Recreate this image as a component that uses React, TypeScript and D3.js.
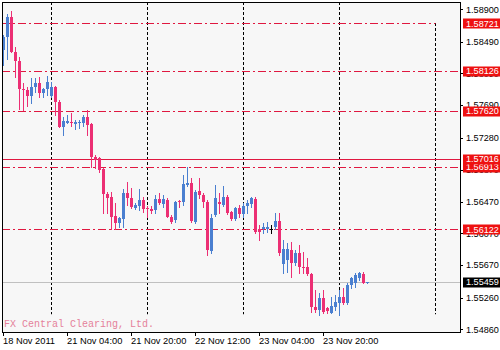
import React from "react";
import * as d3 from "d3";

const opens = [
  1.58386, 1.58554, 1.58807, 1.58365, 1.58247, 1.5789, 1.57881, 1.57806, 1.57915, 1.57966,
  1.5784, 1.57894, 1.57806, 1.57915, 1.57734, 1.57418, 1.5747, 1.57477, 1.57452, 1.57461,
  1.57461, 1.57537, 1.57452, 1.57039, 1.57019, 1.5688, 1.56568, 1.56534, 1.56291, 1.56202,
  1.56249, 1.56585, 1.56514, 1.56388, 1.56417, 1.56493, 1.56388, 1.56375, 1.56366, 1.56505,
  1.56442, 1.56493, 1.56282, 1.5624, 1.5648, 1.56471, 1.56682, 1.56703, 1.56219, 1.56606,
  1.56557, 1.56471, 1.55849, 1.56303, 1.56471, 1.5643, 1.56534, 1.56337, 1.56247, 1.56388,
  1.5631, 1.56417, 1.56442, 1.56501, 1.56121, 1.56123, 1.5613, 1.56123, 1.56148, 1.56231,
  1.55685, 1.55735, 1.55861, 1.55701, 1.5582, 1.55651, 1.55651, 1.55558, 1.55146, 1.55104,
  1.55252, 1.55125, 1.5507, 1.55146, 1.55196, 1.55272, 1.55189, 1.5542, 1.55441, 1.55504,
  1.55558, 1.55449,
];
const highs = [
  1.58576, 1.58841, 1.58879, 1.58428, 1.58294, 1.5797, 1.57919, 1.58029, 1.58029, 1.58042,
  1.57906, 1.58058, 1.57982, 1.57932, 1.57755, 1.5754, 1.57566, 1.57595, 1.57502, 1.57502,
  1.57566, 1.57629, 1.57465, 1.57061, 1.57039, 1.56897, 1.56597, 1.56597, 1.56455, 1.56278,
  1.56632, 1.56724, 1.56644, 1.56459, 1.56627, 1.56534, 1.56417, 1.56417, 1.56557, 1.56577,
  1.56557, 1.56514, 1.56303, 1.56484, 1.56493, 1.56808, 1.56905, 1.56774, 1.56619, 1.56774,
  1.56577, 1.56493, 1.56316, 1.56676, 1.56577, 1.56663, 1.56557, 1.56354, 1.56405, 1.5643,
  1.56451, 1.56493, 1.56534, 1.56534, 1.56177, 1.56198, 1.56219, 1.56177, 1.56332, 1.56332,
  1.55988, 1.55946, 1.55966, 1.55861, 1.55925, 1.5584, 1.55757, 1.55571, 1.55356, 1.55319,
  1.55356, 1.55146, 1.55272, 1.55293, 1.55356, 1.55378, 1.55441, 1.55524, 1.55567, 1.55588,
  1.55588, 1.55462,
];
const lows = [
  1.58197, 1.58269, 1.58361, 1.58049, 1.57638, 1.57629, 1.57678, 1.57713, 1.5786, 1.57797,
  1.57793, 1.57818, 1.57793, 1.57566, 1.57414, 1.57313, 1.57465, 1.57427, 1.57389, 1.57402,
  1.57427, 1.57313, 1.56913, 1.56893, 1.56846, 1.56325, 1.56328, 1.56121, 1.56121, 1.56152,
  1.56155, 1.5643, 1.56388, 1.56379, 1.56366, 1.56345, 1.56282, 1.56332, 1.56332, 1.56442,
  1.56408, 1.56274, 1.56206, 1.56219, 1.56408, 1.5643, 1.56669, 1.56211, 1.56206, 1.56514,
  1.56408, 1.55798, 1.5582, 1.56291, 1.56325, 1.56417, 1.56312, 1.5624, 1.56234, 1.56282,
  1.56282, 1.56325, 1.56408, 1.5608, 1.55988, 1.56072, 1.56092, 1.56072, 1.56121, 1.55798,
  1.55567, 1.55588, 1.55524, 1.55672, 1.55567, 1.55567, 1.55546, 1.55083, 1.55083, 1.55041,
  1.5507, 1.5507, 1.55062, 1.55104, 1.55041, 1.5518, 1.5518, 1.55378, 1.55398, 1.55483,
  1.55441, 1.55445,
];
const closes = [
  1.58554, 1.58807, 1.58365, 1.58247, 1.5789, 1.57881, 1.57806, 1.57915, 1.57966, 1.5784,
  1.57894, 1.57986, 1.57915, 1.57734, 1.57418, 1.57494, 1.57488, 1.57465, 1.57477, 1.57481,
  1.57537, 1.57439, 1.57032, 1.56998, 1.56871, 1.56568, 1.56514, 1.56282, 1.56206, 1.56265,
  1.56585, 1.56514, 1.564, 1.5643, 1.56493, 1.56379, 1.56375, 1.56358, 1.56505, 1.56451,
  1.56501, 1.56282, 1.56219, 1.56471, 1.56471, 1.56695, 1.56703, 1.56231, 1.56597, 1.56557,
  1.56471, 1.55855, 1.5626, 1.56518, 1.5644, 1.56534, 1.56325, 1.56257, 1.56388, 1.5631,
  1.56417, 1.56459, 1.56514, 1.56092, 1.56092, 1.56148, 1.56156, 1.56123, 1.56231, 1.5582,
  1.5587, 1.5587, 1.55701, 1.5582, 1.55651, 1.5563, 1.55558, 1.55138, 1.55104, 1.55252,
  1.55083, 1.55095, 1.55155, 1.55209, 1.55272, 1.55189, 1.5542, 1.55504, 1.55546, 1.55567,
  1.55449, 1.55459,
];

const priceTicks = [1.589, 1.5849, 1.5809, 1.5769, 1.5728, 1.5687, 1.5647, 1.5607, 1.5567, 1.5526, 1.5486];
const dateLabels = ["18 Nov 2011", "21 Nov 04:00", "21 Nov 20:00", "22 Nov 12:00", "23 Nov 04:00", "23 Nov 20:00"];
const dateLabelBars = [0, 16, 32, 48, 64, 80];
const separatorBars = [12, 36, 60, 84, 108];
const dashDotLevels = [1.58721, 1.58126, 1.5762, 1.56913, 1.56122];
const solidLevel = 1.57016;
const currentPrice = 1.55459;
const separatorBottom = 1.5505;
const watermark = "FX Central Clearing, Ltd.";

const BULL = "#4a7fd0";
const BEAR = "#ec2f74";
const LEVEL = "#e01840";
const AXIS_FONT = "'Liberation Sans', Arial, sans-serif";

export default function App() {
  const left = 2, top = 2, right = 460, bottom = 332;
  const x = d3.scaleLinear().domain([0, 1]).range([3.5, 7.5]);
  const y = d3.scaleLinear().domain([1.5486, 1.589]).range([329.3, 9.3]);
  const bars = d3.range(opens.length);
  const fmt = d3.format(".5f");
  const levelEnd = (i: number) => (i === 0 ? x(separatorBars[separatorBars.length - 1]) : right);

  return (
    <svg width={500} height={350} style={{ position: "absolute", left: 0, top: 0, background: "#fff" }}>
      <defs>
        <clipPath id="plot">
          <rect x={left + 0.5} y={top + 0.5} width={right - left - 0.5} height={bottom - top - 0.5} />
        </clipPath>
      </defs>
      <rect x={left} y={top} width={right - left} height={bottom - top} fill="#f7f7f7" />
      <g clipPath="url(#plot)">
        {separatorBars.map((b, i) => (
          <line
            key={"sep" + i}
            x1={Math.floor(x(b)) + 0.5}
            x2={Math.floor(x(b)) + 0.5}
            y1={i === separatorBars.length - 1 ? Math.round(y(dashDotLevels[0])) : top}
            y2={y(separatorBottom)}
            stroke="#000"
            strokeWidth={1}
            strokeDasharray="3,2"
          />
        ))}
        {dashDotLevels.map((p, i) => (
          <line
            key={"lvl" + i}
            x1={left}
            x2={levelEnd(i)}
            y1={Math.round(y(p)) + 0.5}
            y2={Math.round(y(p)) + 0.5}
            stroke={LEVEL}
            strokeWidth={1}
            strokeDasharray="8,3,2,3"
          />
        ))}
        <line x1={left} x2={right} y1={Math.round(y(solidLevel)) + 0.5} y2={Math.round(y(solidLevel)) + 0.5} stroke={LEVEL} strokeWidth={1} />
        <line x1={left} x2={right} y1={Math.round(y(currentPrice)) + 0.5} y2={Math.round(y(currentPrice)) + 0.5} stroke="#c0c0c0" strokeWidth={1} />
        {bars.map((i) => {
          const o = opens[i], c = closes[i];
          const doji = Math.abs(o - c) < 0.000005;
          const col = doji ? "#000" : c > o ? BULL : BEAR;
          const cx = x(i);
          const yTop = Math.round(y(Math.max(o, c)));
          const yBot = Math.round(y(Math.min(o, c)));
          return (
            <g key={"bar" + i}>
              <line x1={cx} x2={cx} y1={Math.round(y(highs[i]))} y2={Math.round(y(lows[i])) + 1} stroke={col} strokeWidth={1} />
              {doji ? (
                <line x1={cx - 1.5} x2={cx + 1.5} y1={yTop + 0.5} y2={yTop + 0.5} stroke={col} strokeWidth={1} />
              ) : (
                <rect x={cx - 1.5} y={yTop} width={3} height={Math.max(1, yBot - yTop)} fill={col} />
              )}
            </g>
          );
        })}
        <text x={4} y={327} fontFamily="'Liberation Mono', 'DejaVu Sans Mono', monospace" fontSize={10} fill="#e5819a">
          {watermark}
        </text>
      </g>
      <rect x={left + 0.5} y={top + 0.5} width={right - left} height={bottom - top} fill="none" stroke="#000" strokeWidth={1} />
      {priceTicks.map((p, i) => (
        <g key={"pt" + i}>
          <line x1={right} x2={right + 3} y1={Math.round(y(p)) + 0.5} y2={Math.round(y(p)) + 0.5} stroke="#000" strokeWidth={1} />
          <text x={466} y={y(p) + 3.3} fontFamily={AXIS_FONT} fontSize={9.1} fill="#000">
            {fmt(p)}
          </text>
        </g>
      ))}
      {[...dashDotLevels, solidLevel].map((p, i) => (
        <g key={"lb" + i}>
          <rect x={463} y={Math.round(y(p)) - 4.5} width={37} height={10} fill="#ee1111" />
          <text x={466} y={y(p) + 3.3} fontFamily={AXIS_FONT} fontSize={9.1} fill="#fff">
            {fmt(p)}
          </text>
        </g>
      ))}
      <rect x={463} y={Math.round(y(currentPrice)) - 4.5} width={37} height={10} fill="#000" />
      <text x={466} y={y(currentPrice) + 3.3} fontFamily={AXIS_FONT} fontSize={9.1} fill="#fff">
        {fmt(currentPrice)}
      </text>
      {dateLabelBars.map((b, i) => (
        <g key={"dl" + i}>
          <line x1={Math.floor(x(b)) + 0.5} x2={Math.floor(x(b)) + 0.5} y1={bottom} y2={bottom + 4} stroke="#000" strokeWidth={1} />
          <text x={Math.floor(x(b))} y={344} fontFamily={AXIS_FONT} fontSize={9.3} fill="#000">
            {dateLabels[i]}
          </text>
        </g>
      ))}
    </svg>
  );
}
